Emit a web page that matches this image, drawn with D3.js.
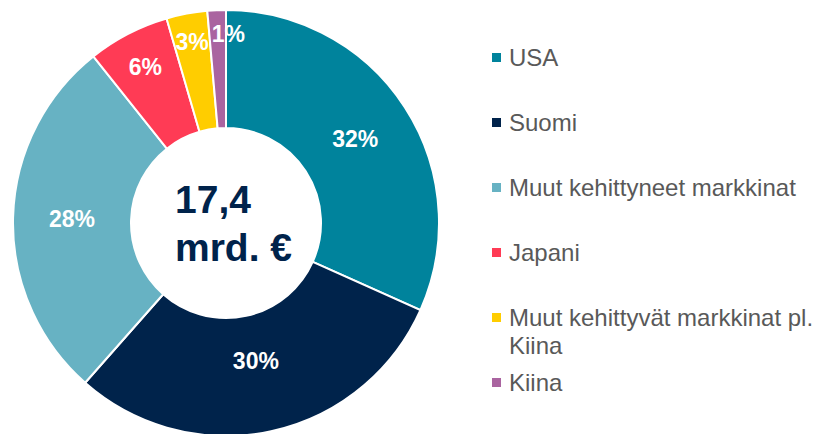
<!DOCTYPE html>
<html lang="fi">
<head>
	<meta charset="UTF-8">
	<title>Sijoitukset markkinoittain</title>
	<script src="https://cdn.jsdelivr.net/npm/d3@7"></script>
	<style type="text/css">
		body {
			margin: 0;
			background: #fff;
		}
		svg {
			display: block;
			font-family: "Liberation Sans", Arial, sans-serif;
		}
		.slice {
			stroke: #fff;
			stroke-width: 2;
		}
		.pct {
			fill: #fff;
			font-weight: bold;
			font-size: 23px;
		}
		.total {
			fill: #00234b;
			font-weight: bold;
			font-size: 39px;
		}
		.legend text {
			fill: #595959;
			font-size: 24px;
		}
	</style>
</head>
<body>

<script type="text/javascript">
	var categories = ['USA', 'Suomi', 'Muut kehittyneet markkinat', 'Japani', 'Muut kehittyvät markkinat pl. Kiina', 'Kiina'];
	var legendLines = [['USA'], ['Suomi'], ['Muut kehittyneet markkinat'], ['Japani'], ['Muut kehittyvät markkinat pl.', 'Kiina'], ['Kiina']];
	var values = [31.7, 29.8, 27.8, 6.2, 3.1, 1.4];
	var pctLabels = ['32%', '30%', '28%', '6%', '3%', '1%'];
	var colors = ['#00839c', '#00234b', '#67b2c3', '#ff3b55', '#ffcd00', '#aa64a0'];
	var totalLines = ['17,4', 'mrd. €'];

	window.onload = function () {
		var width = 820, height = 434;
		var cx = 226, cy = 223;
		var outerR = 213, innerR = 95;

		var svg = d3.select('body').append('svg')
			.attr('width', width)
			.attr('height', height);

		var color = d3.scaleOrdinal().domain(categories).range(colors);

		var pie = d3.pie().sort(null).value(function (d) { return d.value; });
		var arc = d3.arc().innerRadius(innerR).outerRadius(outerR);

		var data = categories.map(function (c, i) {
			return {name: c, value: values[i], label: pctLabels[i]};
		});
		var arcs = pie(data);

		var g = svg.append('g')
			.attr('transform', 'translate(' + cx + ',' + cy + ')');

		g.selectAll('.slice')
			.data(arcs)
			.enter().append('path')
			.attr('class', 'slice')
			.attr('d', arc)
			.style('fill', function (d) { return color(d.data.name); });

		// small slices get their label pushed further out
		var labelR = d3.scaleLinear().domain([1, 6, 20]).range([190, 176, 154]).clamp(true);

		var labels = arcs.map(function (d) {
			var a = (d.startAngle + d.endAngle) / 2;
			var r = labelR(d.data.value);
			// labels in the lower half sit a bit closer to the hole
			if (Math.cos(a) < -0.8) r -= 13;
			return {text: d.data.label, x: r * Math.sin(a), y: -r * Math.cos(a), value: d.data.value};
		});

		var texts = g.selectAll('.pct')
			.data(labels)
			.enter().append('text')
			.attr('class', 'pct')
			.attr('text-anchor', 'middle')
			.attr('dy', '0.35em')
			.text(function (d) { return d.text; });

		// nudge overlapping labels to the right
		var boxes = [];
		texts.each(function (d) { boxes.push(this.getComputedTextLength()); });
		for (var i = 1; i < labels.length; i++) {
			var prev = labels[i - 1], cur = labels[i];
			var overlap = (prev.x + boxes[i - 1] / 2) - (cur.x - boxes[i] / 2);
			if (overlap > 0 && Math.abs(prev.y - cur.y) < 20) {
				cur.x += overlap + 3;
			}
		}
		texts.attr('x', function (d) { return d.x; })
			.attr('y', function (d) { return d.y; });

		// total in the middle
		svg.append('text')
			.attr('class', 'total')
			.attr('x', 175)
			.attr('y', 213)
			.selectAll('tspan')
			.data(totalLines)
			.enter().append('tspan')
			.attr('x', 175)
			.attr('dy', function (d, i) { return i === 0 ? 0 : 48; })
			.text(function (d) { return d; });

		// legend
		var legend = svg.append('g').attr('class', 'legend');
		var y = 66;
		legendLines.forEach(function (lines, i) {
			var item = legend.append('g');
			item.append('rect')
				.attr('x', 492)
				.attr('y', y - 13)
				.attr('width', 9)
				.attr('height', 9)
				.style('fill', color(categories[i]));
			var t = item.append('text').attr('x', 509).attr('y', y);
			lines.forEach(function (line, j) {
				t.append('tspan')
					.attr('x', 509)
					.attr('dy', j === 0 ? 0 : 28)
					.text(line);
			});
			y += (lines.length - 1) * 28 + (lines.length > 1 ? 37 : 65);
		});
	};
</script>

</body>
</html>
